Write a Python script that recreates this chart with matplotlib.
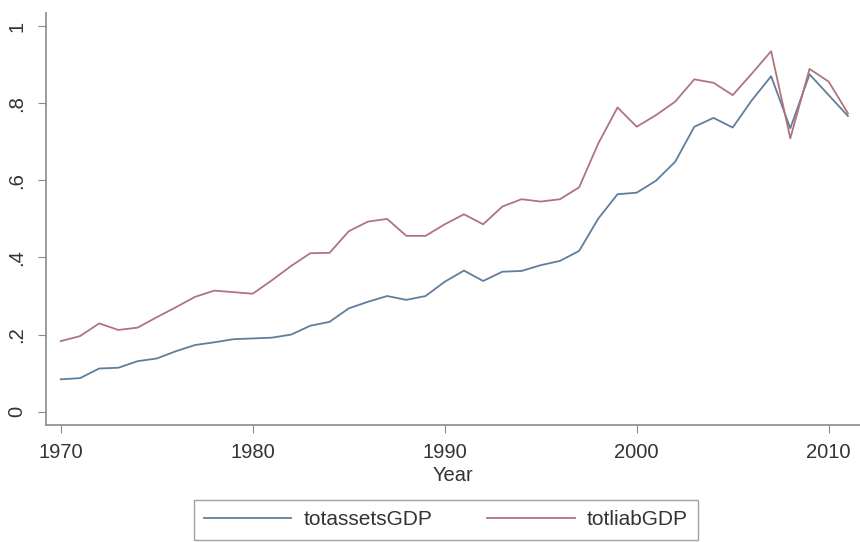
import matplotlib
matplotlib.use('Agg')
from matplotlib import pyplot as plt

# data
years = list(range(1970, 2012))
totassets = [0.084, 0.087, 0.112, 0.114, 0.131, 0.138, 0.157, 0.173, 0.180, 0.188,
             0.190, 0.192, 0.200, 0.223, 0.233, 0.268, 0.285, 0.300, 0.290, 0.300,
             0.337, 0.366, 0.339, 0.363, 0.365, 0.380, 0.391, 0.417, 0.501, 0.564,
             0.568, 0.599, 0.648, 0.739, 0.762, 0.737, 0.808, 0.870, 0.735, 0.875,
             0.821, 0.767]
totliab = [0.183, 0.196, 0.229, 0.212, 0.218, 0.245, 0.271, 0.298, 0.314, 0.310,
           0.306, 0.341, 0.378, 0.411, 0.412, 0.468, 0.493, 0.500, 0.456, 0.456,
           0.486, 0.512, 0.486, 0.532, 0.551, 0.545, 0.551, 0.582, 0.696, 0.789,
           0.739, 0.769, 0.804, 0.862, 0.853, 0.821, 0.877, 0.935, 0.709, 0.889,
           0.856, 0.774]
yticks = [0, 0.2, 0.4, 0.6, 0.8, 1.0]
ytick_labels = ['0', '.2', '.4', '.6', '.8', '1']
xticks = [1970, 1980, 1990, 2000, 2010]

plt.rcParams['font.family'] = ['Liberation Sans', 'DejaVu Sans']
txt = '#333333'
axc = '#8a8a8a'

fig = plt.figure(figsize=[8.6, 5.42], dpi=100)
ax = fig.add_axes([46/860, 117/542, 1 - 46/860, 1 - 13/542 - 117/542])

ax.plot(years, totassets, color='#5f7e9c', lw=1.3, label='totassetsGDP')
ax.plot(years, totliab, color='#b0747c', lw=1.3, label='totliabGDP')

ax.set_xlim(1969.23, 2011.63)
ax.set_ylim(-0.0345, 1.034)
ax.set_xticks(xticks)
ax.set_yticks(yticks)
ax.set_yticklabels(ytick_labels, rotation=90, va='center')
ax.tick_params(axis='both', length=6, width=0.8, color=axc, labelsize=14.5,
               labelcolor=txt, pad=7)
ax.tick_params(axis='y', pad=8)

for s in ['top', 'right']:
    ax.spines[s].set_visible(False)
for s in ['left', 'bottom']:
    ax.spines[s].set_color(axc)
    ax.spines[s].set_linewidth(1.2)

ax.set_xlabel('Year', fontsize=14.5, color=txt, labelpad=3)

leg = fig.legend(loc='upper center', bbox_to_anchor=(446/860, 1 - 500/542),
                 ncol=2, fontsize=15, frameon=True, fancybox=False,
                 handlelength=4.2, handletextpad=0.6, columnspacing=2.6,
                 borderpad=0.5, borderaxespad=0)
leg.get_frame().set_edgecolor(axc)
leg.get_frame().set_linewidth(1.0)
for t in leg.get_texts():
    t.set_color(txt)

plt.savefig('out.png', dpi=100)
